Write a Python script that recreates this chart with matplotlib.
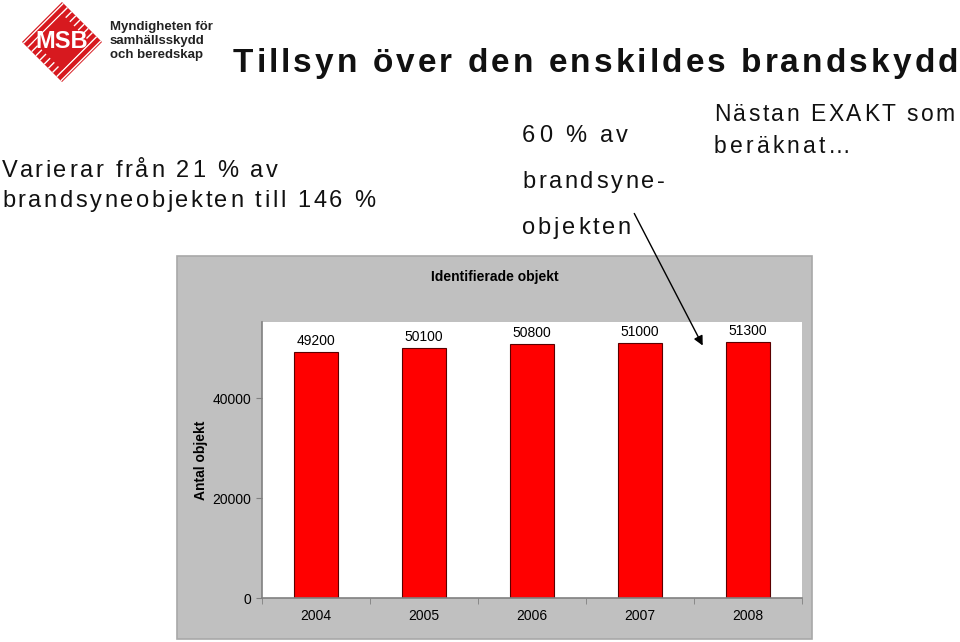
import matplotlib
matplotlib.use("Agg")
import matplotlib.pyplot as plt
from matplotlib.patches import Rectangle, Polygon, FancyArrowPatch
from matplotlib.font_manager import FontProperties
import numpy as np

years = ["2004", "2005", "2006", "2007", "2008"]
values = [49200, 50100, 50800, 51000, 51300]
yticks = [0, 20000, 40000]

W, H = 960, 642
plt.rcParams['font.family'] = ['Liberation Sans', 'DejaVu Sans']
fig = plt.figure(figsize=(9.6, 6.42), dpi=100)
renderer = fig.canvas.get_renderer()

def fx(x):
    return x / W

def fy(y):
    return 1 - y / H

def spaced(x, y, s, size, weight='normal', target_w=None, color='#111111'):
    fp = FontProperties(family=['Liberation Sans', 'DejaVu Sans'], size=size, weight=weight)
    def w(t):
        return renderer.get_text_width_height_descent(t, fp, ismath=False)[0]
    base = w('x')
    pos = [w(s[:i] + 'x') - base for i in range(len(s))]
    natural = w(s)
    track = (target_w - natural) / (len(s) - 1) if target_w else 0
    for i, c in enumerate(s):
        if c == ' ':
            continue
        fig.text(fx(x + pos[i] + i * track), fy(y), c, ha='left', va='baseline',
                 fontproperties=fp, color=color)

# gray chart panel
fig.patches.append(Rectangle((fx(177), fy(639)), fx(812) - fx(177), fy(256) - fy(639),
                             transform=fig.transFigure, facecolor='#c0c0c0',
                             edgecolor='#a8a8a8', lw=1.2, zorder=-1))

ax = fig.add_axes([fx(262), fy(598), fx(802) - fx(262), fy(322) - fy(598)], zorder=2)
ax.set_facecolor('white')
x = np.arange(len(years))
ax.bar(x, values, width=0.4, color='#ff0000', edgecolor='#5a0000', lw=0.8)
ax.set_xlim(-0.5, len(years) - 0.5)
ax.set_ylim(0, 55300)
ax.set_yticks(yticks)
ax.set_yticklabels([str(v) for v in yticks], fontsize=10)
ax.set_xticks(x)
ax.set_xticklabels(years, fontsize=10)
ax.tick_params(axis='x', length=0, pad=8)
ax.set_xticks(np.arange(-0.5, len(years), 1), minor=True)
ax.tick_params(axis='x', which='minor', length=4, color='#808080', direction='out')
ax.tick_params(axis='y', length=4, color='#808080', pad=4)
for s in ['top', 'right']:
    ax.spines[s].set_visible(False)
for s in ['left', 'bottom']:
    ax.spines[s].set_color('#808080')
    ax.spines[s].set_linewidth(1.2)

for xi, v in zip(x, values):
    ax.annotate(str(v), (xi, v), xytext=(0, 3), textcoords='offset points',
                ha='center', va='bottom', fontsize=10)

fig.text(fx(495), fy(277), "Identifierade objekt", ha='center', va='center',
         fontsize=10, fontweight='bold')
fig.text(fx(201), fy(460), "Antal objekt", ha='center', va='center',
         fontsize=10, fontweight='bold', rotation=90)

# titles and annotations (letter-spaced)
spaced(233, 72, "Tillsyn över den enskildes brandskydd", 24, 'bold', target_w=725)
spaced(2, 177, "Varierar från 21 % av", 17, target_w=276)
spaced(2, 207, "brandsyneobjekten till 146 %", 17, target_w=373)
spaced(522, 142, "60 % av", 17, target_w=106)
spaced(522, 188, "brandsyne-", 17, target_w=143)
spaced(522, 234, "objekten", 17, target_w=109)
spaced(714, 121, "Nästan EXAKT som", 16.5, target_w=241)
spaced(714, 153, "beräknat…", 16.5, target_w=137)

arrow = FancyArrowPatch((fx(633), fy(211)), (fx(704), fy(348)), transform=fig.transFigure,
                        arrowstyle='-|>', mutation_scale=14, color='black', lw=1.0, zorder=10)
fig.patches.append(arrow)

# logo
cx, cy, r = 62, 42, 40
outer = Polygon([(fx(cx), fy(cy - r)), (fx(cx + r), fy(cy)), (fx(cx), fy(cy + r)), (fx(cx - r), fy(cy))],
                transform=fig.transFigure, facecolor='#d7191f', edgecolor='white', hatch='////', lw=0)
fig.patches.append(outer)
ri = 28
inner = Polygon([(fx(cx), fy(cy - ri)), (fx(cx + ri), fy(cy)), (fx(cx), fy(cy + ri)), (fx(cx - ri), fy(cy))],
                transform=fig.transFigure, facecolor='#d7191f', edgecolor='none', lw=0)
fig.patches.append(inner)
fig.text(fx(cx), fy(cy), "MSB", ha='center', va='center', fontsize=17, fontweight='bold',
         color='white')
fig.text(fx(110), fy(41), "Myndigheten för\nsamhällsskydd\noch beredskap", ha='left', va='center',
         fontsize=9.5, fontweight='bold', linespacing=1.2, color='#222222')

fig.savefig("out.png", dpi=100)
